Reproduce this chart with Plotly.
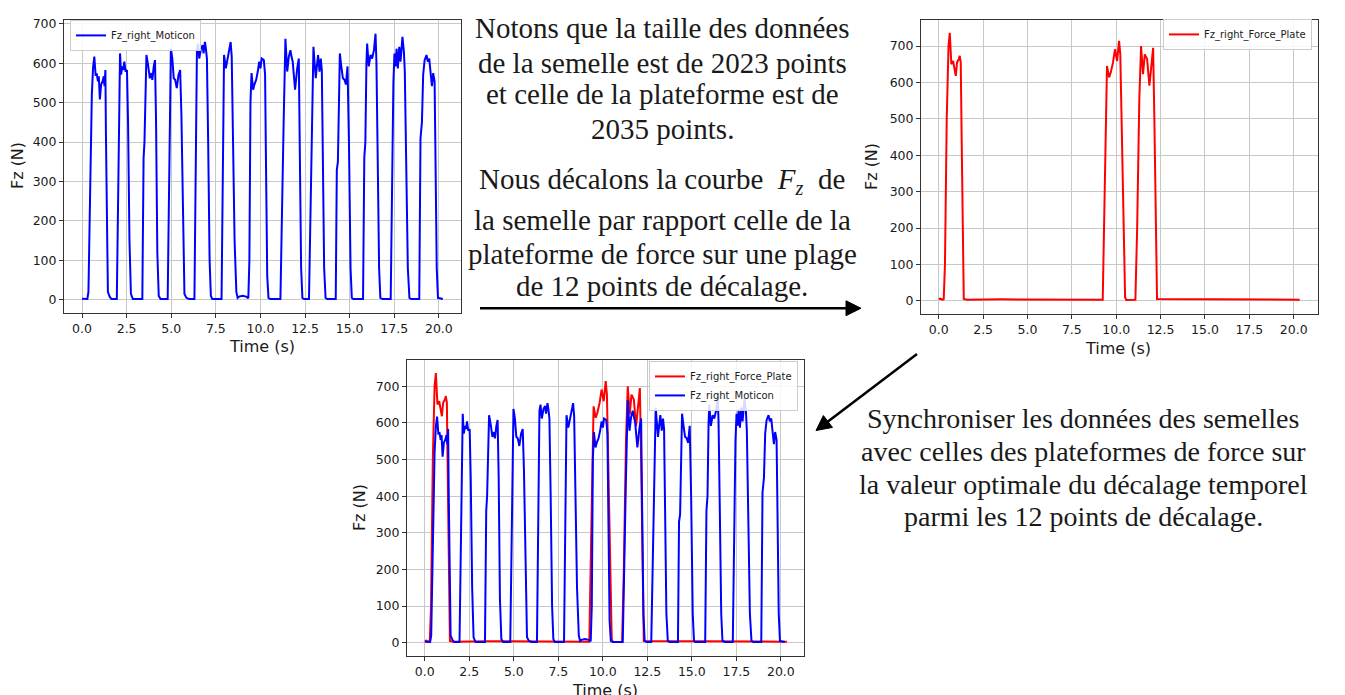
import math
import plotly.graph_objects as go

# ---------------- data ----------------
# Insole (Moticon) vertical force, right foot: time (s) / force (N) vertices
MOTICON_T = [
    0.00, 0.30,
    0.36, 0.45, 0.55, 0.62, 0.69, 0.76, 0.83, 0.89, 0.94, 1.00, 1.07, 1.15, 1.22, 1.26, 1.31, 1.34, 1.40, 1.45, 1.55, 1.65,
    1.95, 2.00, 2.08, 2.13, 2.19, 2.26, 2.31, 2.37, 2.44, 2.52, 2.58, 2.66, 2.74, 2.85,
    3.38, 3.45, 3.50, 3.57, 3.61, 3.70, 3.80, 3.89, 3.94, 4.02, 4.09, 4.15, 4.22, 4.30, 4.40,
    4.80, 4.88, 4.93, 4.98, 5.06, 5.14, 5.22, 5.31, 5.41, 5.50, 5.57, 5.65, 5.74, 5.85, 6.00,
    6.30, 6.38, 6.44, 6.50, 6.57, 6.67, 6.76, 6.81, 6.89, 6.94, 7.00, 7.07, 7.15, 7.22, 7.30,
    7.82, 7.88, 7.96, 8.06, 8.15, 8.24, 8.33, 8.39, 8.45, 8.55, 8.65, 8.72, 8.80, 9.00, 9.20, 9.32,
    9.38, 9.44, 9.50, 9.59, 9.66, 9.76, 9.85, 9.93, 10.00, 10.07, 10.19, 10.26, 10.31, 10.38, 10.45, 10.55,
    11.12, 11.20, 11.30, 11.40, 11.50, 11.59, 11.68, 11.74, 11.81, 11.87, 11.94, 12.06, 12.15, 12.20, 12.28, 12.35, 12.45,
    12.72, 12.80, 12.90, 12.97, 13.03, 13.10, 13.16, 13.23, 13.31, 13.38, 13.44, 13.50, 13.57, 13.65, 13.75,
    14.22, 14.28, 14.34, 14.40, 14.45, 14.52, 14.62, 14.71, 14.79, 14.88, 14.96, 15.05, 15.12, 15.20,
    15.75, 15.82, 15.88, 15.94, 15.98, 16.07, 16.17, 16.26, 16.36, 16.45, 16.50, 16.56, 16.65, 16.72, 16.85,
    17.30, 17.38, 17.45, 17.51, 17.57, 17.63, 17.70, 17.78, 17.85, 17.96, 18.04, 18.09, 18.16, 18.26, 18.35, 18.45,
    18.90, 18.97, 19.05, 19.12, 19.20, 19.31, 19.38, 19.46, 19.53, 19.61, 19.68, 19.76, 19.80, 19.88, 19.95, 20.22,
]
MOTICON_V = [
    3, 2,
    20, 300, 520, 590, 617, 571, 572, 554, 567, 508, 546, 554, 567, 542, 583, 420, 120, 20, 8, 2,
    2, 150, 500, 625, 571, 592, 583, 604, 579, 583, 450, 150, 15, 2,
    2, 360, 400, 570, 621, 596, 562, 575, 558, 592, 608, 450, 120, 10, 2,
    2, 300, 550, 638, 612, 562, 558, 537, 571, 583, 470, 200, 15, 5, 2,
    2, 300, 633, 650, 612, 638, 646, 625, 654, 638, 612, 400, 100, 10, 2,
    2, 300, 621, 587, 612, 638, 654, 617, 450, 150, 20, 5, 8, 10, 8, 4,
    100, 500, 575, 533, 546, 558, 579, 604, 587, 612, 608, 571, 350, 60, 5, 2,
    2, 230, 450, 662, 579, 617, 633, 617, 604, 571, 533, 587, 612, 400, 80, 5, 2,
    2, 230, 500, 642, 604, 562, 592, 621, 579, 612, 583, 400, 80, 5, 2,
    2, 330, 350, 560, 625, 596, 562, 558, 546, 592, 400, 80, 5, 2,
    2, 360, 400, 600, 650, 592, 621, 612, 633, 675, 604, 400, 80, 5, 2,
    2, 400, 550, 625, 592, 637, 587, 642, 604, 667, 629, 579, 400, 80, 5, 2,
    2, 410, 450, 571, 608, 621, 604, 612, 579, 542, 575, 554, 400, 80, 5, 2,
]

# Force plate vertical force, right foot: time (s) / force (N) vertices
PLATE_T = [
    0.00, 0.10, 0.20, 0.28, 0.35, 0.45, 0.55, 0.62, 0.71, 0.81, 0.86, 0.96, 1.03, 1.13, 1.18, 1.24,
    1.29, 1.35, 1.41, 1.60, 3.50, 9.24,
    9.32, 9.40, 9.48, 9.60, 9.69, 9.82, 9.93, 10.05, 10.16, 10.23, 10.30, 10.40, 10.50, 10.57, 11.08,
    11.18, 11.30, 11.40, 11.51, 11.61, 11.74, 11.87, 11.96, 12.08, 12.15, 12.22, 12.30, 20.34,
]
PLATE_V = [
    5, 6, 3, 5, 100, 500, 700, 736, 650, 659, 645, 618, 655, 664, 673, 655,
    450, 150, 5, 3, 4, 3,
    200, 500, 645, 614, 627, 655, 691, 659, 714, 677, 500, 200, 10, 2, 3,
    200, 550, 700, 623, 677, 664, 591, 632, 695, 500, 200, 5, 3,
]

X_TICKS = [0, 2.5, 5, 7.5, 10, 12.5, 15, 17.5, 20]
X_TICK_LABELS = ["0.0", "2.5", "5.0", "7.5", "10.0", "12.5", "15.0", "17.5", "20.0"]
Y_TICKS = [0, 100, 200, 300, 400, 500, 600, 700]
Y_TICK_LABELS = ["0", "100", "200", "300", "400", "500", "600", "700"]

NAME_MOTICON = "Fz_right_Moticon"
NAME_PLATE = "Fz_right_Force_Plate"

TEXT_LEFT = [
    "Notons que la taille des données",
    "de la semelle est de 2023 points",
    "et celle de la plateforme est de",
    "2035 points.",
    "Nous décalons la courbe  <i>F</i><sub><i>z</i></sub>  de",
    "la semelle par rapport celle de la",
    "plateforme de force sur une plage",
    "de 12 points de décalage.",
]
TEXT_RIGHT = [
    "Synchroniser les données des semelles",
    "avec celles des plateformes de force sur",
    "la valeur optimale du décalage temporel",
    "parmi les 12 points de décalage.",
]

# ---------------- layout helpers ----------------
W, H = 1345, 695


def px(x):
    return x / W


def py(y):
    return 1 - y / H


BLUE = "#0000ff"
RED = "#ff0000"
INK = "#1a1a1a"
TICK_FONT = dict(family="DejaVu Sans", size=12.5, color=INK)
SERIF = "Liberation Serif, Times New Roman, serif"

fig = go.Figure()
fig.add_trace(go.Scatter(x=MOTICON_T, y=MOTICON_V, mode="lines", name=NAME_MOTICON, showlegend=True,
                         line=dict(color=BLUE, width=2), xaxis="x", yaxis="y", legend="legend"))
fig.add_trace(go.Scatter(x=PLATE_T, y=PLATE_V, mode="lines", name=NAME_PLATE, showlegend=True,
                         line=dict(color=RED, width=2), xaxis="x2", yaxis="y2", legend="legend2"))
fig.add_trace(go.Scatter(x=PLATE_T, y=PLATE_V, mode="lines", name=NAME_PLATE, showlegend=True,
                         line=dict(color=RED, width=2), xaxis="x3", yaxis="y3", legend="legend3"))
fig.add_trace(go.Scatter(x=MOTICON_T, y=MOTICON_V, mode="lines", name=NAME_MOTICON, showlegend=True,
                         line=dict(color=BLUE, width=2), xaxis="x3", yaxis="y3", legend="legend3"))

axis_common = dict(showline=True, mirror=True, linecolor="#333333", linewidth=1,
                   ticks="outside", ticklen=4, tickwidth=1, tickcolor="#333333",
                   showgrid=True, gridcolor="#c8c8c8", gridwidth=1, zeroline=False,
                   tickfont=TICK_FONT)
xax = dict(axis_common, tickmode="array", tickvals=X_TICKS, ticktext=X_TICK_LABELS)
yax = dict(axis_common, tickmode="array", tickvals=Y_TICKS, ticktext=Y_TICK_LABELS)

legend_common = dict(bgcolor="rgba(255,255,255,0.85)", bordercolor="#cccccc", borderwidth=1,
                     font=dict(family="DejaVu Sans", size=10, color=INK),
                     itemwidth=30, tracegroupgap=0, visible=True)

fig.update_layout(
    width=W, height=H, autosize=False,
    margin=dict(l=0, r=0, t=0, b=0),
    paper_bgcolor="white", plot_bgcolor="white",
    showlegend=True,
    xaxis=dict(xax, domain=[px(64), px(461)], range=[-1.01, 21.24], anchor="y"),
    yaxis=dict(yax, domain=[py(311), py(16)], range=[-34, 710], anchor="x"),
    xaxis2=dict(xax, domain=[px(921), px(1318)], range=[-1.0, 21.37], anchor="y2"),
    yaxis2=dict(yax, domain=[py(312), py(16)], range=[-36.75, 771.75], anchor="x2"),
    xaxis3=dict(xax, domain=[px(407), px(804)], range=[-1.0, 21.3], anchor="y3"),
    yaxis3=dict(yax, domain=[py(656), py(358)], range=[-36.75, 771.75], anchor="x3"),
    legend=dict(legend_common, x=px(70), y=py(16), xanchor="left", yanchor="top"),
    legend2=dict(legend_common, x=px(1312), y=py(15), xanchor="right", yanchor="top"),
    legend3=dict(legend_common, x=px(798), y=py(359), xanchor="right", yanchor="top"),
)

annotations = []


def label(text, x, y, angle=0, size=16, family="DejaVu Sans"):
    annotations.append(dict(text=text, x=px(x), y=py(y), xref="paper", yref="paper",
                            xanchor="center", yanchor="middle", showarrow=False,
                            textangle=angle, font=dict(family=family, size=size, color=INK)))


# axis titles
label("Fz (N)", 17, 163, angle=-90)
label("Time (s)", 262, 344)
label("Fz (N)", 871, 164, angle=-90)
label("Time (s)", 1118, 346)
label("Fz (N)", 359, 507, angle=-90)
label("Time (s)", 605, 690)

# explanatory text
left_centers = [24, 59, 91, 126, 178, 217, 251, 284]
for t, yc in zip(TEXT_LEFT, left_centers):
    label(t, 662, yc, size=29, family=SERIF)
right_centers = [417, 450, 483, 515]
for t, yc in zip(TEXT_RIGHT, right_centers):
    label(t, 1083, yc, size=28, family=SERIF)

fig.update_layout(annotations=annotations)

# arrows drawn as shapes (pixel positions converted to paper coordinates)
shapes = []


def arrow(x0, y0, x1, y1, head_len=15, head_half=7.5, width=2.5):
    dx, dy = x1 - x0, y1 - y0
    n = math.hypot(dx, dy)
    ux, uy = dx / n, dy / n
    bx, by = x1 - ux * head_len, y1 - uy * head_len
    pxn, pyn = -uy, ux
    shapes.append(dict(type="line", xref="paper", yref="paper",
                       x0=px(x0), y0=py(y0), x1=px(bx + ux * 2), y1=py(by + uy * 2),
                       line=dict(color="black", width=width)))
    p1 = (bx + pxn * head_half, by + pyn * head_half)
    p2 = (bx - pxn * head_half, by - pyn * head_half)
    path = "M {:.5f},{:.5f} L {:.5f},{:.5f} L {:.5f},{:.5f} Z".format(
        px(x1), py(y1), px(p1[0]), py(p1[1]), px(p2[0]), py(p2[1]))
    shapes.append(dict(type="path", xref="paper", yref="paper", path=path,
                       fillcolor="black", line=dict(color="black", width=1)))


arrow(480, 306, 861, 306)
arrow(917, 352, 816, 429)

fig.update_layout(shapes=shapes)

fig.write_html("out.html", config={"displayModeBar": False},
               post_script="document.body.style.margin='0';document.body.style.overflow='hidden';")
